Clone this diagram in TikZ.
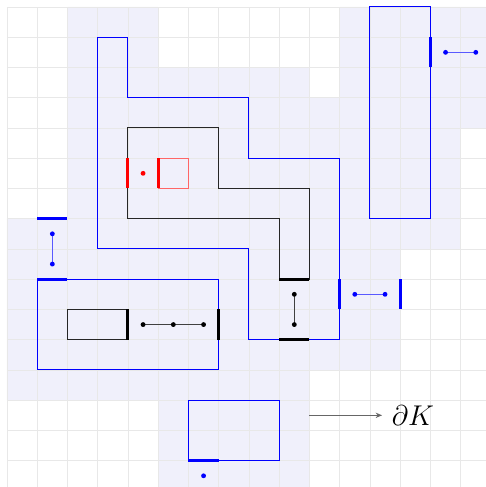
\documentclass[tikz,border=0pt]{standalone}
\usetikzlibrary{arrows.meta}
\definecolor{nbhdfill}{RGB}{240,240,251}
\definecolor{gridgray}{RGB}{232,232,232}

\begin{document}
\begin{tikzpicture}[
      x=1cm,y=-1cm,
      nbhd/.style={fill=nbhdfill},
      bnd/.style={draw=blue, line width=0.9pt},
      core/.style={draw=black!85, line width=0.9pt},
      fat/.style={line width=2.8pt},
      link/.style={line width=0.9pt},
      lbl/.style={font=\Huge, inner sep=9pt}
    ]
      \useasboundingbox (-0.23,-0.23) rectangle (15.83,15.87);
      \fill[nbhd] (2,0) -| (5,2) -| (10,3) -| (11,0) -| (16,4) -| (15,8) -| (13,12)
        -| (10,16) -| (5,13) -| (0,7) -| (2,0) -- cycle;
      \draw[gridgray, line width=0.6pt] (0,0) grid (16,16);
      \draw[bnd] (3,1) -| (4,3) -| (8,5) -| (11,11) -| (8,8) -| (3,1) -- cycle;
      \draw[core] (4,4) -| (7,6) -| (10,9) -| (9,7) -| (4,4) -- cycle;
      \draw[bnd] (12,0) rectangle (14,7);
      \draw[bnd] (1,9) rectangle (7,12);
      \draw[bnd] (6,13) rectangle (9,15);
      \draw[core] (2,10) rectangle (4,11);
      \draw[draw=red!60, line width=0.9pt] (5,5) rectangle (6,6);
      \draw[blue!65, link] (14.5,1.5) -- (15.5,1.5) (1.5,7.5) -- (1.5,8.5) (11.5,9.5) -- (12.5,9.5);
      \draw[black!75, link] (9.5,9.5) -- (9.5,10.5) (4.5,10.5) -- (6.5,10.5);
      \draw[blue, fat] (14,1) -- (14,2) (1,7) -- (2,7) (1,9) -- (2,9)
        (11,9) -- (11,10) (13,9) -- (13,10) (6,15) -- (7,15);
      \draw[black, fat] (9,9) -- (10,9) (9,11) -- (10,11) (7,10) -- (7,11) (4,10) -- (4,11);
      \draw[red, fat] (4,5) -- (4,6) (5,5) -- (5,6);
      \foreach \p in {(14.5,1.5),(15.5,1.5),(1.5,7.5),(1.5,8.5),(11.5,9.5),(12.5,9.5),(6.5,15.5)}
        \fill[blue] \p circle (0.08);
      \foreach \p in {(9.5,9.5),(9.5,10.5),(4.5,10.5),(5.5,10.5),(6.5,10.5)}
        \fill[black] \p circle (0.08);
      \fill[red] (4.5,5.5) circle (0.08);
      \node[lbl, anchor=west] (bdK) at (12.4,13.5) {\scalebox{1.08}{$\partial K$}};
      \coordinate (src) at (10,13.5);
      \draw[black!60, line width=0.9pt, -{Stealth[length=6pt,width=5pt]}] (src) -- (bdK);
    \end{tikzpicture}
\end{document}
